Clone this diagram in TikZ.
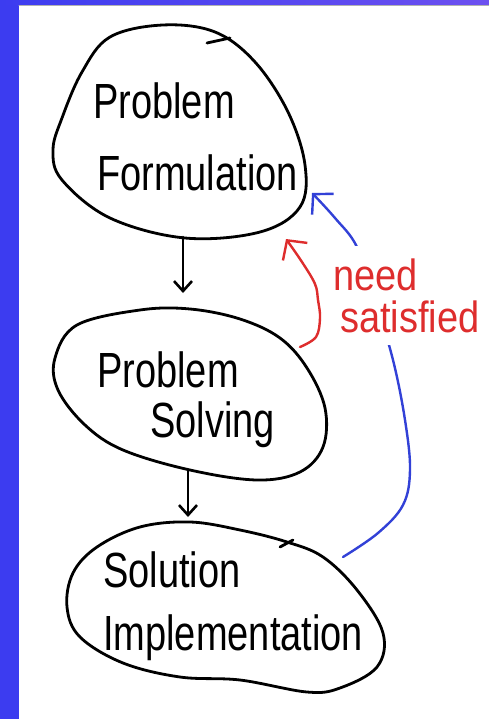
\documentclass[tikz,border=0pt]{standalone}
\usepackage{fontspec}
\setmainfont{Liberation Sans}
\usetikzlibrary{arrows.meta,calc,positioning}
\definecolor{frameblue}{RGB}{60,60,240}
\definecolor{frametop}{RGB}{108,80,240}
\definecolor{inkred}{RGB}{222,45,45}
\definecolor{inkblue}{RGB}{50,65,215}
\newcommand{\tall}[2][1.3]{\scalebox{1}[#1]{#2}}
\tikzset{
  blob/.style={draw, line width=2.8pt},
  txt/.style={font=\fontsize{38}{50}\selectfont, align=left, inner sep=0pt, anchor=west},
  flow/.style={line width=2.6pt, -{Straight Barb[length=10pt,width=18pt]}},
  back/.style={line width=2.4pt, -{Straight Barb[length=14pt,width=30pt]}},
  every picture/.style={line cap=round, line join=round}
}

\begin{document}
\begin{tikzpicture}[x=1pt,y=-1pt]
  \useasboundingbox (0,0) rectangle (489,719);
  \fill[white] (0,0) rectangle (489,719);
  \fill[frameblue] (0,0) rectangle (19,719);
  \shade[left color=frameblue, right color=frametop] (0,0) rectangle (489,5);
  \draw[gray!60, line width=1pt] (19,5.5) -- (489,5.5);

  % the three stages
  \node[txt] (pf) at (93,136.5) {\tall{Problem}\\[22pt]\hspace*{4pt}\tall{Formulation}};
  \node[txt] (ps) at (97,399.5) {\tall{Problem}\\\hspace*{53pt}\tall{Solving}};
  \node[txt] (si) at (103,606) {\tall{Solution}\\[13pt]\tall{Implementation}};

  \draw[blob] plot[smooth cycle, tension=0.6] coordinates {
    (163,25) (215,32) (255,62) (288,112) (305,165) (300,207) (260,232)
    (185,238) (110,218) (62,180) (53,150) (62,118) (82,72) (110,37)};
  \draw[blob] (207,43) -- (230,38);
  \draw[blob] plot[smooth cycle, tension=0.6] coordinates {
    (140,310) (190,309) (240,319) (280,338) (307,368) (325,408) (323,447)
    (300,472) (257,480) (190,470) (123,450) (85,425) (58,390) (55,358) (77,325)};
  \draw[blob] plot[smooth cycle, tension=0.6] coordinates {
    (190,522) (240,530) (287,542) (323,557) (357,590) (383,633) (377,667)
    (340,688) (307,692) (240,680) (180,677) (123,663) (80,637) (67,607)
    (73,573) (97,547) (140,527)};
  \draw[blob] (280,547) -- (293,540);

  \coordinate (pf-s) at (183,237);
  \coordinate (ps-n) at (183,293);
  \coordinate (ps-s) at (188,471);
  \coordinate (si-n) at (188,517);
  \coordinate (ps-ne) at (300,347);
  \coordinate (pf-se) at (286,239);
  \coordinate (si-ne) at (343,557);
  \coordinate (pf-e) at (312,193);

  \draw[flow] (pf-s) -- (ps-n);
  \draw[flow] (ps-s) -- (si-n);

  % feedback
  \draw[back, inkblue] plot[smooth, tension=0.6] coordinates {
    (si-ne) (378,533) (403,505) (410,470) (405,420) (393,360) (375,300)
    (357,247) (335,218) (pf-e)};
  \draw[back, inkred] plot[smooth, tension=0.6] coordinates {
    (ps-ne) (316,337) (320,318) (318,300) (315,284) (302,262) (pf-se)};
  \node[txt, inkred, fill=white, inner xsep=6pt, inner ysep=12pt,
    font=\fontsize{38}{42}\selectfont] (need) at (327,295.5)
    {\tall[1.15]{need}\\\hspace*{7pt}\tall[1.15]{satisfied}};
\end{tikzpicture}
\end{document}
